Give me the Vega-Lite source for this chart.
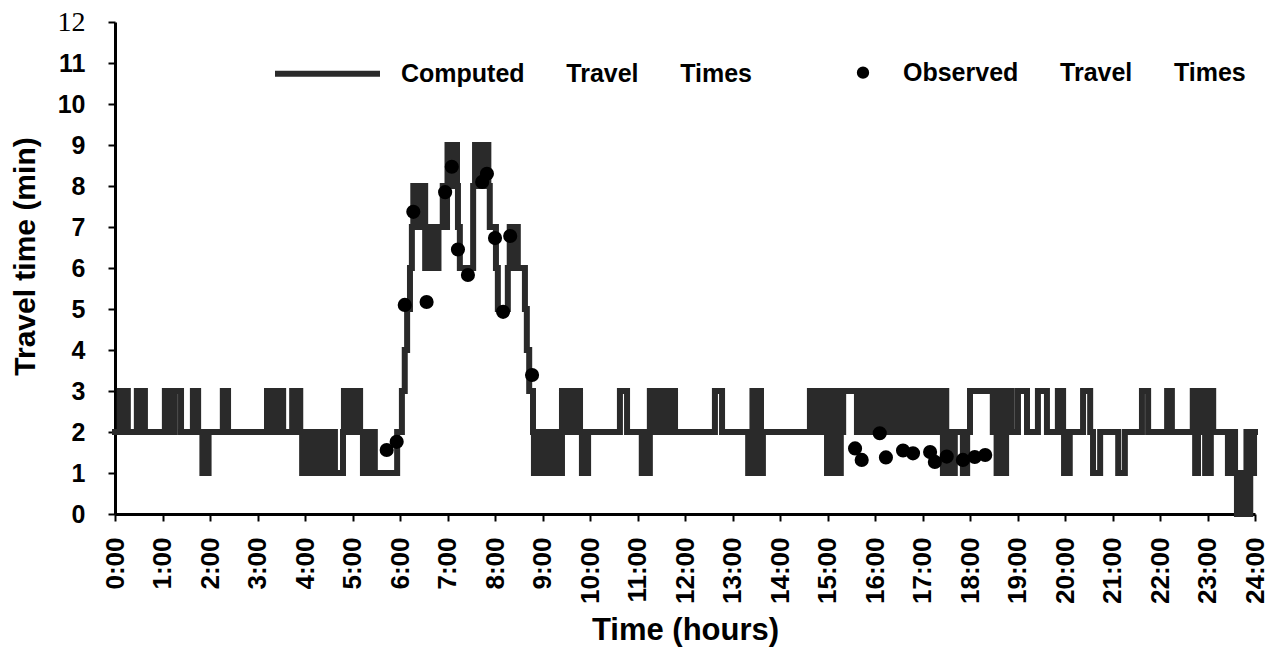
{
  "$schema": "https://vega.github.io/schema/vega-lite/v6.json",
  "width": 1140,
  "height": 492,
  "autosize": {"type": "none"},
  "padding": {"left": 115, "top": 22, "right": 20, "bottom": 140},
  "background": "white",
  "config": {"view": {"stroke": null}, "font": "Liberation Sans"},
  "datasets": {
    "computed": [
      {"t":0,"v":2},{"t":0.10,"v":3},{"t":0.14,"v":2},{"t":0.17,"v":3},{"t":0.21,"v":2},{"t":0.24,"v":3},{"t":0.27,"v":2},
      {"t":0.46,"v":3},{"t":0.52,"v":2},{"t":0.56,"v":3},{"t":0.63,"v":2},
      {"t":1.05,"v":3},{"t":1.16,"v":2},
      {"t":1.26,"v":3},{"t":1.39,"v":2},
      {"t":1.64,"v":3},{"t":1.75,"v":2},
      {"t":1.84,"v":1},{"t":1.90,"v":2},{"t":1.93,"v":1},{"t":1.97,"v":2},
      {"t":2.27,"v":3},{"t":2.32,"v":2},{"t":2.34,"v":3},{"t":2.38,"v":2},
      {"t":3.20,"v":3},{"t":3.25,"v":2},{"t":3.28,"v":3},{"t":3.33,"v":2},{"t":3.36,"v":3},{"t":3.42,"v":2},{"t":3.45,"v":3},{"t":3.54,"v":2},
      {"t":3.73,"v":3},{"t":3.80,"v":2},{"t":3.83,"v":3},{"t":3.90,"v":2},
      {"t":3.94,"v":1},{"t":4.00,"v":2},{"t":4.04,"v":1},{"t":4.10,"v":2},{"t":4.13,"v":1},{"t":4.20,"v":2},{"t":4.24,"v":1},{"t":4.30,"v":2},{"t":4.34,"v":1},{"t":4.40,"v":2},{"t":4.44,"v":1},{"t":4.50,"v":2},{"t":4.54,"v":1},{"t":4.60,"v":2},{"t":4.63,"v":1},
      {"t":4.80,"v":2},{"t":4.82,"v":3},{"t":4.87,"v":2},{"t":4.90,"v":3},{"t":4.95,"v":2},{"t":4.98,"v":3},{"t":5.05,"v":2},{"t":5.08,"v":3},{"t":5.16,"v":2},
      {"t":5.22,"v":1},{"t":5.26,"v":2},{"t":5.30,"v":1},{"t":5.34,"v":2},{"t":5.38,"v":1},{"t":5.43,"v":2},{"t":5.47,"v":1},
      {"t":5.94,"v":2},{"t":6.04,"v":3},{"t":6.10,"v":4},{"t":6.15,"v":5},{"t":6.21,"v":6},{"t":6.25,"v":7},
      {"t":6.28,"v":8},{"t":6.31,"v":7},{"t":6.34,"v":8},{"t":6.38,"v":7},{"t":6.42,"v":8},{"t":6.46,"v":7},{"t":6.50,"v":8},
      {"t":6.53,"v":6},{"t":6.57,"v":7},{"t":6.61,"v":6},{"t":6.65,"v":7},{"t":6.69,"v":6},{"t":6.73,"v":7},{"t":6.77,"v":6},{"t":6.81,"v":7},
      {"t":6.90,"v":8},{"t":6.95,"v":7},{"t":6.99,"v":8},
      {"t":7.00,"v":9},{"t":7.04,"v":8},{"t":7.08,"v":9},{"t":7.12,"v":8},{"t":7.16,"v":9},{"t":7.20,"v":8},
      {"t":7.22,"v":7},{"t":7.26,"v":6},
      {"t":7.54,"v":8},{"t":7.58,"v":9},{"t":7.62,"v":8},{"t":7.66,"v":9},{"t":7.70,"v":8},{"t":7.74,"v":9},{"t":7.78,"v":8},{"t":7.82,"v":9},{"t":7.86,"v":8},
      {"t":7.89,"v":7},{"t":8.02,"v":6},{"t":8.06,"v":5},
      {"t":8.27,"v":6},{"t":8.31,"v":7},{"t":8.35,"v":6},{"t":8.39,"v":7},{"t":8.43,"v":6},{"t":8.47,"v":7},
      {"t":8.48,"v":6},{"t":8.63,"v":5},{"t":8.67,"v":4},{"t":8.72,"v":3},{"t":8.80,"v":2},
      {"t":8.82,"v":1},{"t":8.88,"v":2},{"t":8.92,"v":1},{"t":8.98,"v":2},{"t":9.02,"v":1},{"t":9.08,"v":2},{"t":9.12,"v":1},{"t":9.20,"v":2},{"t":9.24,"v":1},{"t":9.32,"v":2},{"t":9.36,"v":1},
      {"t":9.41,"v":3},{"t":9.45,"v":2},{"t":9.48,"v":3},{"t":9.52,"v":2},{"t":9.55,"v":3},{"t":9.60,"v":2},{"t":9.63,"v":3},{"t":9.68,"v":2},{"t":9.72,"v":3},{"t":9.79,"v":2},
      {"t":9.83,"v":1},{"t":9.88,"v":2},{"t":9.91,"v":1},{"t":9.96,"v":2},
      {"t":10.63,"v":3},{"t":10.78,"v":2},
      {"t":11.09,"v":1},{"t":11.15,"v":2},{"t":11.18,"v":1},{"t":11.26,"v":3},{"t":11.32,"v":2},{"t":11.38,"v":3},{"t":11.42,"v":2},{"t":11.46,"v":3},{"t":11.52,"v":2},{"t":11.55,"v":3},{"t":11.62,"v":2},{"t":11.66,"v":3},{"t":11.72,"v":2},{"t":11.75,"v":3},{"t":11.79,"v":2},
      {"t":12.63,"v":3},{"t":12.78,"v":2},
      {"t":13.33,"v":1},{"t":13.38,"v":2},{"t":13.42,"v":3},{"t":13.46,"v":2},{"t":13.50,"v":1},{"t":13.55,"v":2},{"t":13.57,"v":3},{"t":13.60,"v":1},{"t":13.64,"v":2},
      {"t":14.63,"v":3},{"t":14.68,"v":2},{"t":14.72,"v":3},{"t":14.77,"v":2},{"t":14.81,"v":3},{"t":14.86,"v":2},{"t":14.90,"v":3},{"t":14.95,"v":2},{"t":14.99,"v":1},{"t":15.03,"v":3},{"t":15.07,"v":1},{"t":15.11,"v":3},{"t":15.15,"v":1},{"t":15.19,"v":3},{"t":15.24,"v":1},{"t":15.28,"v":3},{"t":15.31,"v":2},{"t":15.33,"v":3},
      {"t":15.62,"v":2},{"t":15.66,"v":3},{"t":15.70,"v":2},{"t":15.74,"v":3},{"t":15.78,"v":2},{"t":15.82,"v":3},{"t":15.86,"v":2},{"t":15.90,"v":3},{"t":15.94,"v":2},{"t":15.98,"v":3},{"t":16.02,"v":2},{"t":16.06,"v":3},{"t":16.14,"v":2},{"t":16.18,"v":3},{"t":16.22,"v":2},{"t":16.26,"v":3},{"t":16.30,"v":2},{"t":16.34,"v":3},{"t":16.38,"v":2},{"t":16.42,"v":3},{"t":16.48,"v":2},{"t":16.52,"v":3},{"t":16.56,"v":2},{"t":16.60,"v":3},{"t":16.64,"v":2},{"t":16.68,"v":3},{"t":16.72,"v":2},{"t":16.76,"v":3},{"t":16.80,"v":2},{"t":16.84,"v":3},{"t":16.88,"v":2},{"t":16.92,"v":3},{"t":16.96,"v":2},{"t":17.00,"v":3},{"t":17.04,"v":2},{"t":17.08,"v":3},{"t":17.12,"v":2},{"t":17.16,"v":3},{"t":17.20,"v":2},{"t":17.24,"v":3},{"t":17.28,"v":2},{"t":17.32,"v":3},{"t":17.36,"v":2},{"t":17.40,"v":3},
      {"t":17.43,"v":1},{"t":17.47,"v":3},{"t":17.50,"v":1},{"t":17.54,"v":2},{"t":17.58,"v":1},{"t":17.62,"v":2},{"t":17.65,"v":1},{"t":17.68,"v":2},
      {"t":17.85,"v":1},{"t":17.94,"v":2},{"t":18.00,"v":3},
      {"t":18.48,"v":2},{"t":18.52,"v":3},{"t":18.56,"v":1},{"t":18.60,"v":3},{"t":18.64,"v":2},{"t":18.68,"v":3},{"t":18.72,"v":1},{"t":18.76,"v":3},{"t":18.80,"v":2},{"t":18.84,"v":3},{"t":18.88,"v":2},
      {"t":19.01,"v":3},{"t":19.20,"v":2},
      {"t":19.43,"v":3},{"t":19.62,"v":2},
      {"t":19.85,"v":3},{"t":19.96,"v":2},{"t":19.98,"v":1},{"t":20.10,"v":2},
      {"t":20.38,"v":3},{"t":20.53,"v":2},
      {"t":20.59,"v":1},{"t":20.74,"v":2},
      {"t":21.12,"v":1},{"t":21.26,"v":2},
      {"t":21.62,"v":3},{"t":21.75,"v":2},
      {"t":22.15,"v":3},{"t":22.25,"v":2},
      {"t":22.69,"v":3},{"t":22.74,"v":1},{"t":22.80,"v":3},{"t":22.84,"v":2},
      {"t":22.91,"v":3},{"t":22.95,"v":1},{"t":22.99,"v":3},{"t":23.03,"v":1},{"t":23.07,"v":3},{"t":23.12,"v":2},
      {"t":23.43,"v":1},{"t":23.47,"v":2},{"t":23.50,"v":1},{"t":23.54,"v":2},{"t":23.58,"v":1},{"t":23.62,"v":0},{"t":23.66,"v":1},{"t":23.70,"v":0},{"t":23.74,"v":1},{"t":23.78,"v":0},{"t":23.82,"v":2},{"t":23.86,"v":0},{"t":23.90,"v":2},{"t":23.94,"v":1},{"t":23.98,"v":2},{"t":24.0,"v":2}
    ],
    "observed": [
      {"t":5.72,"v":1.56},{"t":5.93,"v":1.76},{"t":6.10,"v":5.1},{"t":6.28,"v":7.37},{"t":6.56,"v":5.17},{"t":6.95,"v":7.85},{"t":7.09,"v":8.47},{"t":7.22,"v":6.45},{"t":7.43,"v":5.83},{"t":7.73,"v":8.1},{"t":7.83,"v":8.3},{"t":8.0,"v":6.73},{"t":8.17,"v":4.93},{"t":8.32,"v":6.78},{"t":8.78,"v":3.39},
      {"t":15.58,"v":1.6},{"t":15.72,"v":1.32},{"t":16.10,"v":1.97},{"t":16.23,"v":1.38},{"t":16.59,"v":1.55},{"t":16.8,"v":1.48},{"t":17.16,"v":1.51},{"t":17.26,"v":1.27},{"t":17.51,"v":1.4},{"t":17.85,"v":1.32},{"t":18.1,"v":1.39},{"t":18.32,"v":1.44}
    ]
  },
  "encoding": {
    "x": {
      "field": "t", "type": "quantitative",
      "scale": {"domain": [0, 24], "nice": false, "zero": false},
      "axis": {
        "values": [0,1,2,3,4,5,6,7,8,9,10,11,12,13,14,15,16,17,18,19,20,21,22,23,24],
        "labelExpr": "datum.value + ':00'",
        "labelAngle": -90,
        "labelFont": "Liberation Sans", "labelFontWeight": "bold", "labelFontSize": 26, "labelColor": "black",
        "labelPadding": 16, "labelFlush": false, "labelOverlap": false,
        "tickColor": "black", "tickSize": 7, "tickWidth": 2,
        "domainColor": "black", "domainWidth": 3,
        "grid": false,
        "title": "Time (hours)",
        "titleFont": "Liberation Sans", "titleFontWeight": "bold", "titleFontSize": 31, "titleColor": "black",
        "titleY": 101,
        "encode": {"ticks": {"update": {"y": {"value": -7}}}}
      }
    },
    "y": {
      "field": "v", "type": "quantitative",
      "scale": {"domain": [0, 12], "nice": false},
      "axis": {
        "values": [0,1,2,3,4,5,6,7,8,9,10,11,12],
        "labelFont": {"condition": {"test": "datum.value == 12", "value": "Liberation Serif"}, "value": "Liberation Sans"},
        "labelFontWeight": {"condition": {"test": "datum.value == 12", "value": "normal"}, "value": "bold"},
        "labelFontSize": {"condition": {"test": "datum.value == 12", "value": 28}, "value": 25},
        "labelColor": "black", "labelPadding": 23, "labelFlush": false,
        "tickColor": "black", "tickSize": 7, "tickWidth": 2,
        "domainColor": "black", "domainWidth": 3,
        "grid": false,
        "title": "Travel time (min)",
        "titleFont": "Liberation Sans", "titleFontWeight": "bold", "titleFontSize": 30, "titleColor": "black",
        "titleX": -90, "titleY": 234, "titleAlign": "center", "titleBaseline": "middle", "titleAngle": -90,
        "encode": {
          "ticks": {"update": {"x": {"value": 7}}},
          "labels": {"update": {"dx": {"value": -12}}}
        }
      }
    }
  },
  "layer": [
    {
      "data": {"name": "computed"},
      "mark": {"type": "line", "interpolate": "step-after", "strokeWidth": 6, "strokeCap": "square"},
      "encoding": {
        "color": {
          "datum": "Computed\u00a0\u00a0\u00a0\u00a0\u00a0\u00a0Travel\u00a0\u00a0\u00a0\u00a0\u00a0\u00a0Times",
          "type": "nominal",
          "scale": {
            "domain": ["Computed\u00a0\u00a0\u00a0\u00a0\u00a0\u00a0Travel\u00a0\u00a0\u00a0\u00a0\u00a0\u00a0Times", "Observed\u00a0\u00a0\u00a0\u00a0\u00a0\u00a0Travel\u00a0\u00a0\u00a0\u00a0\u00a0\u00a0Times"],
            "range": ["#2a2a2a", "#000000"]
          },
          "legend": {
            "orient": "none", "legendX": 160, "legendY": -5,
            "direction": "horizontal", "title": null,
            "symbolType": "stroke", "symbolSize": 11025, "symbolStrokeWidth": 6,
            "labelFont": "Liberation Sans", "labelFontWeight": "bold", "labelFontSize": 25, "labelColor": "black",
            "labelOffset": 15, "columnPadding": 24, "labelLimit": 0,
            "encode": {
              "symbols": {
                "update": {
                  "shape": {"signal": "datum.index == 1 ? 'circle' : 'stroke'"},
                  "size": {"signal": "datum.index == 1 ? 40 : 11025"},
                  "x": {"signal": "datum.index == 1 ? 86 : 52.5"},
                  "fill": {"signal": "datum.index == 1 ? 'black' : 'transparent'"},
                  "stroke": {"value": "black"}
                }
              }
            }
          }
        }
      }
    },
    {
      "data": {"name": "observed"},
      "mark": {"type": "circle", "size": 200, "opacity": 1},
      "encoding": {
        "color": {"datum": "Observed\u00a0\u00a0\u00a0\u00a0\u00a0\u00a0Travel\u00a0\u00a0\u00a0\u00a0\u00a0\u00a0Times", "type": "nominal"}
      }
    }
  ]
}
